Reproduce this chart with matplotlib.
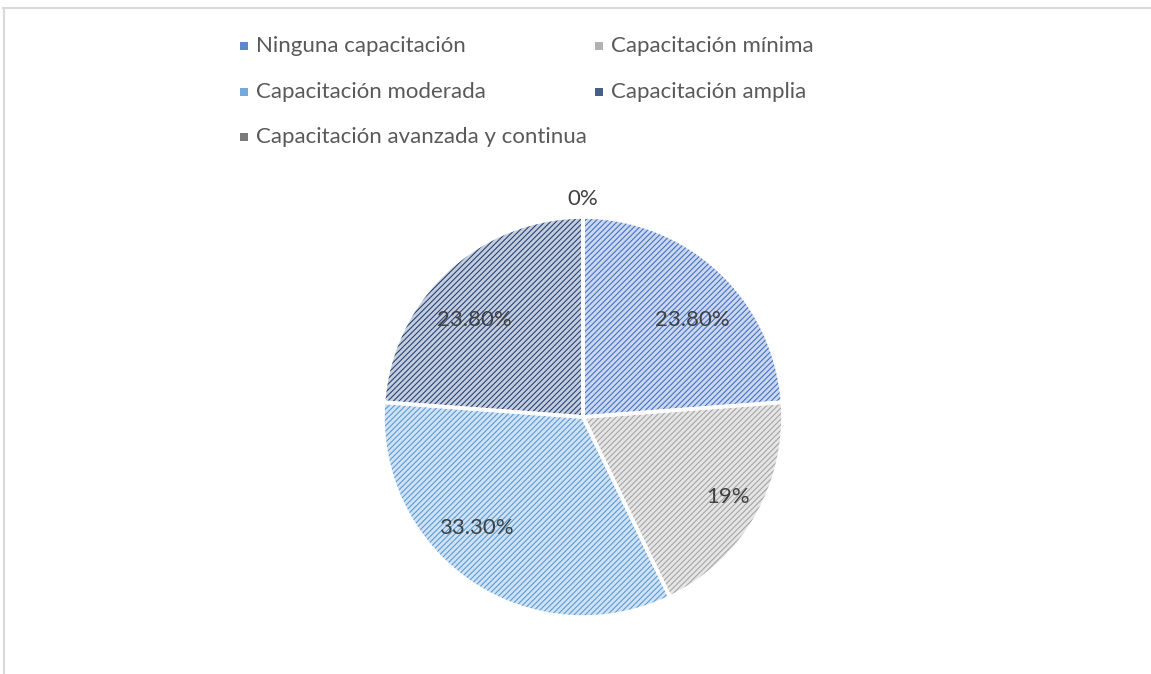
import numpy as np
import matplotlib
matplotlib.use("Agg")
import matplotlib.pyplot as plt
from matplotlib.patches import Rectangle
from matplotlib.lines import Line2D

categories = ["Ninguna capacitación", "Capacitación mínima", "Capacitación moderada",
              "Capacitación amplia", "Capacitación avanzada y continua"]
values = [23.8, 19.0, 33.3, 23.8, 0.0]
value_labels = ["23.80%", "19%", "33.30%", "23.80%", "0%"]

face_colors = ["#ccd8f0", "#e5e5e5", "#d0e2f4", "#c6cedd", "#d0d0d0"]
hatch_colors = ["#4472c4", "#a5a5a5", "#5b9bd5", "#264478", "#636363"]
label_dist = [0.73, 0.83, 0.77, 0.73, 1.09]
label_angle_shift = [5.5, -1.0, 9.6, -5.4, 0.0]

plt.rcParams['font.family'] = ['Lato', 'DejaVu Sans']
plt.rcParams['hatch.linewidth'] = 0.8

W, H = 1151, 674
fig = plt.figure(figsize=(W / 100, H / 100), dpi=100)
fig.patch.set_facecolor("white")

# border lines
fig.add_artist(Line2D([3 / W, 1], [1 - 8 / H, 1 - 8 / H], color="#d9d9d9", lw=1.5,
                      transform=fig.transFigure))
fig.add_artist(Line2D([4 / W, 4 / W], [0, 1 - 8 / H], color="#d9d9d9", lw=1.5,
                      transform=fig.transFigure))

cx, cy, R = 583, 417, 200
ax = fig.add_axes([(cx - R) / W, (H - cy - R) / H, 2 * R / W, 2 * R / H])
ax.axis("off")

# hatched fills
wedges, _ = ax.pie(values, startangle=90, counterclock=False, radius=1,
                   colors=face_colors, wedgeprops=dict(linewidth=0))
for w, hc in zip(wedges, hatch_colors):
    w.set_hatch("//////")
    w.set_edgecolor(hc)
    w.set_linewidth(0)
# white separators
ax.pie(values, startangle=90, counterclock=False, radius=1,
       colors=["none"] * len(values),
       wedgeprops=dict(linewidth=2.6, edgecolor="white", facecolor="none"))

ax.set_xlim(-1, 1)
ax.set_ylim(-1, 1)
ax.set_aspect("equal")

total = sum(values)
start = 0.0
for v, lab, d, sh in zip(values, value_labels, label_dist, label_angle_shift):
    mid = (start + v / 2) / total * 2 * np.pi + np.deg2rad(sh)
    x, y = d * np.sin(mid), d * np.cos(mid)
    ax.text(x, y, lab, ha="center", va="center", fontsize=16, color="#404040",
            clip_on=False)
    start += v

# legend (row-major, two columns)
col_x = [244, 599]
row_y = [46, 92, 137]
for i, (cat, fc, hc) in enumerate(zip(categories, face_colors, hatch_colors)):
    r, c = divmod(i, 2)
    x, y = col_x[c], row_y[r]
    fig.add_artist(Rectangle(((x - 4) / W, 1 - (y + 4) / H), 8 / W, 8 / H,
                             transform=fig.transFigure, facecolor=hc,
                             edgecolor="none", alpha=0.85))
    fig.text((x + 12) / W, 1 - y / H, cat, ha="left", va="center",
             fontsize=16, color="#595959")

fig.savefig("out.png", dpi=100)
